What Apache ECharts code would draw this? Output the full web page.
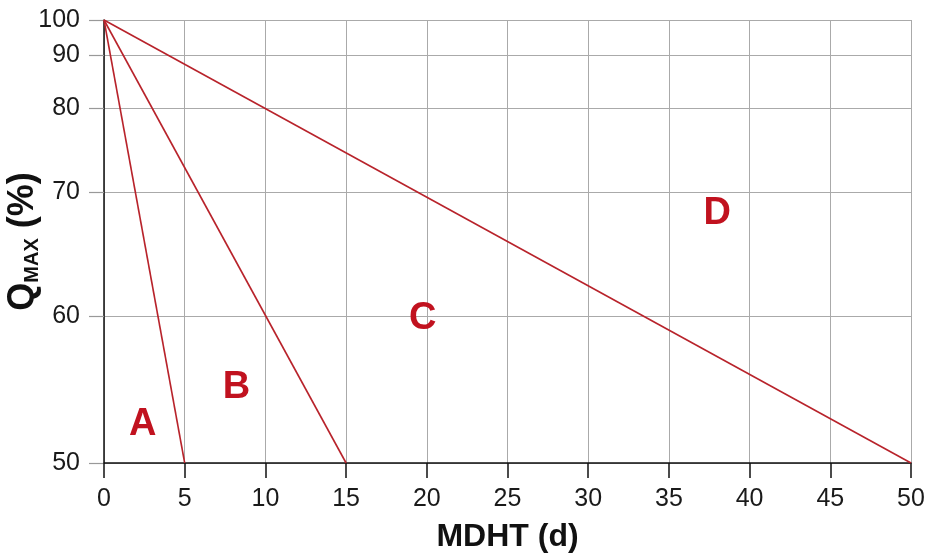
<!DOCTYPE html>
<html>
<head>
<meta charset="utf-8">
<script src="https://cdn.jsdelivr.net/npm/echarts@6/dist/echarts.min.js"></script>
<style>
  html, body { margin: 0; padding: 0; background: #ffffff; }
  #chart { width: 928px; height: 559px; }
</style>
</head>
<body>
<div id="chart"></div>
<script>
// ---- data ----
const xTicks = [0, 5, 10, 15, 20, 25, 30, 35, 40, 45, 50];
const yTicks = [50, 60, 70, 80, 90, 100];
// non-linear Q axis: relative position of each tick along the axis (0 = bottom, 1 = top)
const yTickScale = [0, 0.332, 0.611, 0.801, 0.921, 1];

const lineA = [[0, 100], [5, 50]];
const lineB = [[0, 100], [15, 50]];
const lineD = [[0, 100], [50, 50]];

const regionNames = ['A', 'B', 'C', 'D'];
const regionX = [2.4, 8.2, 19.75, 38.0];
const regionQ = [52.6, 55.1, 59.8, 68.3];

// ---- scale helpers ----
function qToAxis(q) {
  for (let i = 0; i < yTicks.length - 1; i++) {
    if (q <= yTicks[i + 1]) {
      const t = (q - yTicks[i]) / (yTicks[i + 1] - yTicks[i]);
      return yTickScale[i] + t * (yTickScale[i + 1] - yTickScale[i]);
    }
  }
  return 1;
}
function axisToLabel(v) {
  for (let i = 0; i < yTickScale.length; i++) {
    if (Math.abs(yTickScale[i] - v) < 1e-6) return String(yTicks[i]);
  }
  return '';
}
const tr = arr => arr.map(p => [p[0], qToAxis(p[1])]);

const red = '#c1121f';
const font = '"Liberation Sans", Arial, sans-serif';
const lineSeries = (name, d) => ({
  name, type: 'line', data: tr(d), symbol: 'none', silent: true,
  lineStyle: { color: '#b8232b', width: 1.6 }
});

const chart = echarts.init(document.getElementById('chart'), null, { renderer: 'canvas' });
chart.setOption({
  animation: false,
  backgroundColor: '#ffffff',
  grid: { left: 104, right: 17, top: 20, bottom: 96, containLabel: false, outerBoundsMode: 'none' },
  xAxis: {
    type: 'value', min: 0, max: 50, interval: 5,
    name: 'MDHT (d)', nameLocation: 'middle', nameGap: 58, nameMoveOverlap: false,
    nameTextStyle: { fontFamily: font, fontWeight: 'bold', fontSize: 32, color: '#111' },
    axisLine: { lineStyle: { color: '#111', width: 1.5 } },
    axisTick: { show: true, inside: false, length: 15, lineStyle: { color: '#111', width: 1.5 } },
    axisLabel: { fontFamily: font, fontSize: 25, color: '#1a1a1a', margin: 24 },
    splitLine: { show: true, lineStyle: { color: '#aaaaaa', width: 1 } }
  },
  yAxis: {
    type: 'value', min: 0, max: 1,
    name: '{q|Q}{s|MAX}{q| (%)}', nameLocation: 'middle', nameGap: 62, nameRotate: 90, nameMoveOverlap: false,
    nameTextStyle: {
      rich: {
        q: { fontFamily: font, fontWeight: 'bold', fontSize: 36, color: '#111' },
        s: { fontFamily: font, fontWeight: 'bold', fontSize: 20, color: '#111', verticalAlign: 'bottom', padding: [17, 0, 0, 0] }
      }
    },
    axisLine: { show: true, lineStyle: { color: '#111', width: 1.5 } },
    axisTick: { show: true, inside: false, length: 15, customValues: yTickScale, lineStyle: { color: '#999', width: 1.2 } },
    axisLabel: { fontFamily: font, fontSize: 25, color: '#1a1a1a', margin: 24, customValues: yTickScale, formatter: axisToLabel },
    splitLine: { show: true, lineStyle: { color: '#aaaaaa', width: 1 } }
  },
  series: [
    lineSeries('A', lineA),
    lineSeries('B', lineB),
    lineSeries('D', lineD),
    {
      type: 'scatter', symbolSize: 0, silent: true,
      itemStyle: { opacity: 1 },
      data: regionNames.map((n, i) => ({ name: n, value: [regionX[i], qToAxis(regionQ[i])] })),
      label: {
        show: true, position: 'inside', formatter: p => p.name, opacity: 1,
        fontFamily: font, fontWeight: 'bold', fontSize: 38, color: red
      }
    }
  ]
});
</script>
</body>
</html>
